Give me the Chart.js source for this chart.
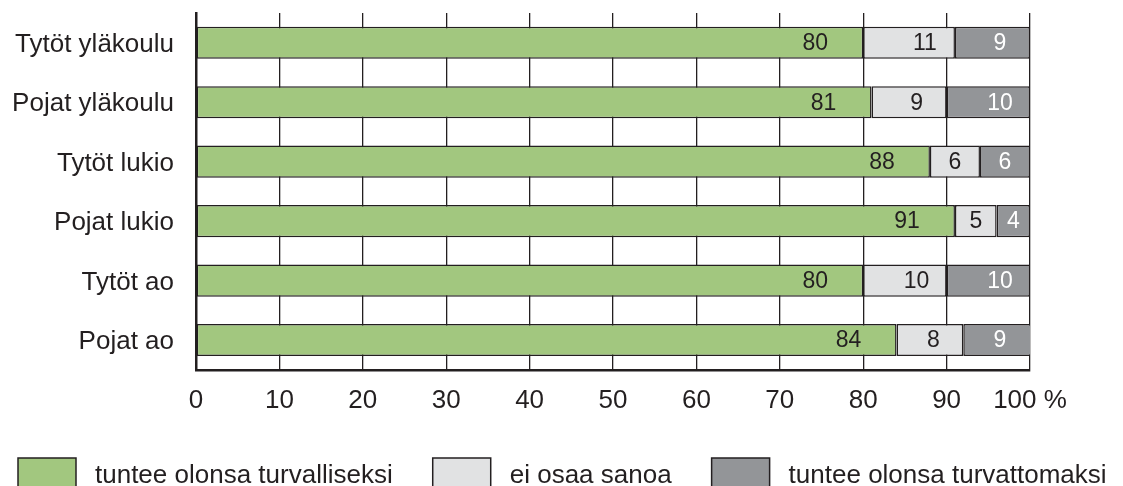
<!DOCTYPE html>
<html>
<head>
<meta charset="utf-8">
<script src="https://cdn.jsdelivr.net/npm/chart.js@4.4.1/dist/chart.umd.min.js"></script>
<style>
html, body { margin: 0; padding: 0; background: #fff; }
#wrap { width: 1123px; height: 486px; }
</style>
</head>
<body>
<div id="wrap"><canvas id="safety"></canvas></div>
<script>
var groups = ["Tytöt yläkoulu", "Pojat yläkoulu", "Tytöt lukio", "Pojat lukio", "Tytöt ao", "Pojat ao"];
var safe = [80, 81, 88, 91, 80, 84];
var dontKnow = [11, 9, 6, 5, 10, 8];
var unsafe = [9, 10, 6, 4, 10, 9];
var seriesNames = ["tuntee olonsa turvalliseksi", "ei osaa sanoa", "tuntee olonsa turvattomaksi"];
var xTickLabels = ["0", "10", "20", "30", "40", "50", "60", "70", "80", "90", "100 %"];

var ink = "#231f20";
var fills = ["#a2c77f", "#e1e2e3", "#939598"];
var labelColors = [ink, ink, "#ffffff"];
var fontFamily = '"Liberation Sans", Arial, Helvetica, sans-serif';

Chart.defaults.font.family = fontFamily;
Chart.defaults.color = ink;

var barLabels = {
    id: "barLabels",
    afterDatasetsDraw: function(chart) {
        var ctx = chart.ctx;
        var right = chart.chartArea.right;
        ctx.save();
        ctx.font = "23px " + fontFamily;
        ctx.textAlign = "center";
        ctx.textBaseline = "middle";
        chart.data.datasets.forEach(function(ds, di) {
            chart.getDatasetMeta(di).data.forEach(function(bar, i) {
                var end = Math.min(bar.x, right);
                var x = di === 0 ? end - 48 : Math.max((bar.base + end) / 2, end - 30);
                ctx.fillStyle = labelColors[di];
                ctx.fillText(ds.data[i], x, bar.y + 1);
            });
        });
        ctx.restore();
    }
};

var boxLegend = {
    id: "boxLegend",
    afterDraw: function(chart) {
        var ctx = chart.ctx;
        var x = 18, top = 458;
        ctx.save();
        ctx.font = "26px " + fontFamily;
        ctx.textBaseline = "alphabetic";
        ctx.textAlign = "left";
        chart.data.datasets.forEach(function(ds) {
            ctx.fillStyle = ds.backgroundColor;
            ctx.fillRect(x, top, 58, 32);
            ctx.lineWidth = 1.5;
            ctx.strokeStyle = ink;
            ctx.strokeRect(x, top, 58, 32);
            ctx.fillStyle = ink;
            ctx.fillText(ds.label, x + 77, 483);
            x += 77 + ctx.measureText(ds.label).width + 40;
        });
        ctx.restore();
    }
};

function series(i, values) {
    return {
        label: seriesNames[i],
        data: values,
        backgroundColor: fills[i],
        borderColor: ink,
        borderWidth: 1.5,
        borderSkipped: false,
        barPercentage: 0.54,
        categoryPercentage: 1
    };
}

var safetyChart = new Chart(document.getElementById("safety"), {
    type: "bar",
    data: {
        labels: groups,
        datasets: [series(0, safe), series(1, dontKnow), series(2, unsafe)]
    },
    options: {
        indexAxis: "y",
        responsive: true,
        maintainAspectRatio: false,
        animation: false,
        layout: { padding: { top: 13, right: 93, bottom: 55, left: 0 } },
        plugins: {
            legend: { display: false },
            tooltip: { enabled: false }
        },
        scales: {
            x: {
                stacked: true,
                min: 0,
                max: 100,
                ticks: {
                    stepSize: 10,
                    padding: 15,
                    maxRotation: 0,
                    font: { size: 26 },
                    color: ink,
                    callback: function(v, i) { return xTickLabels[i]; }
                },
                grid: { color: ink, lineWidth: 1.3, drawTicks: false },
                border: { color: ink, width: 2.5 },
                afterFit: function(scale) { scale.paddingLeft = 0; scale.paddingRight = 0; }
            },
            y: {
                stacked: true,
                ticks: { padding: 22, labelOffset: 2, font: { size: 26 }, color: ink },
                grid: { display: false, drawTicks: false },
                border: { color: ink, width: 2.5 },
                afterFit: function(scale) {
                    scale.width = 196;
                    scale.paddingTop = 0;
                    scale.paddingBottom = 0;
                }
            }
        }
    },
    plugins: [barLabels, boxLegend]
});
</script>
</body>
</html>
